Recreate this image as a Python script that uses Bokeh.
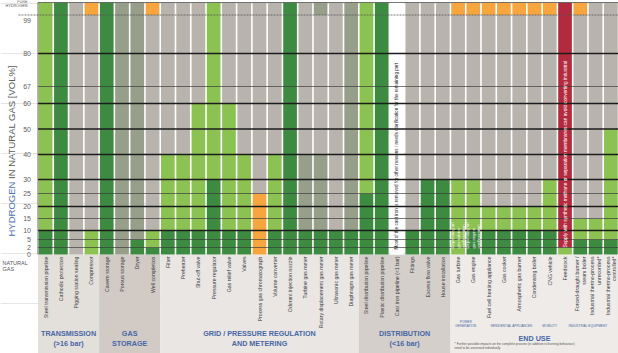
import numpy as np
from bokeh.plotting import figure
from bokeh.models import Range1d
from bokeh.core.properties import value
from bokeh.embed import file_html
from bokeh.resources import INLINE

# ---------------- data ----------------
transmission = ["Steel transmission pipeline", "Cathodic protection",
                "Pigging station sealing", "Compressor"]
storage = ["Cavern storage", "Porous storage", "Dryer", "Well completion"]
grid = ["Filter", "Preheater", "Shut-off valve", "Pressure regulator",
        "Gas relief valve", "Valves", "Process gas chromatograph",
        "Volume converter", "Odorant injection nozzle", "Turbine gas meter",
        "Rotary displacement gas meter", "Ultrasonic gas meter",
        "Diaphragm gas meter"]
distribution = ["Steel distribution pipeline", "Plastic distribution pipeline",
                "Cast iron pipeline (<1 bar)", "Fittings", "Excess flow valve",
                "House installation"]
end_use = ["Gas turbine", "Gas engine", "Fuel cell heating appliance",
           "Gas cooker", "Atmospheric gas burner", "Condensing boiler",
           "CNG vehicle", "Feedstock", "Forced-draught burner /\nsteam boiler",
           "Industrial thermo-process\nunrecorded*",
           "Industrial thermo-process\ncontrolled*"]

# status bands per component: (upper H2 vol%, status), from natural gas upwards
# D = suitable, L = suitable with adaptation, M = partly known, G = research needed,
# O = critical, R = not suitable, W = not assessed
transmission_status = [[(10, "D"), (100, "L")], [(100, "D")], [(100, "G")],
                       [(10, "L"), (99, "G"), (100, "O")]]
storage_status = [[(100, "D")], [(100, "M")], [(5, "D"), (100, "M")],
                  [(2, "D"), (10, "L"), (99, "G"), (100, "O")]]
grid_status = [[(10, "D"), (40, "L"), (100, "G")],
               [(10, "D"), (40, "L"), (100, "G")],
               [(10, "D"), (60, "L"), (100, "G")],
               [(30, "D"), (100, "L")],
               [(10, "D"), (60, "L"), (100, "G")],
               [(10, "D"), (40, "L"), (100, "G")],
               [(25, "O"), (100, "G")],
               [(10, "D"), (40, "L"), (100, "G")],
               [(100, "D")],
               [(10, "D"), (40, "M"), (100, "G")],
               [(10, "D"), (40, "M"), (99, "G"), (100, "M")],
               [(10, "D"), (100, "G")],
               [(10, "D"), (100, "M")]]
distribution_status = [[(25, "D"), (100, "L")], [(100, "D")], [(100, "W")],
                       [(10, "D"), (100, "G")], [(30, "D"), (100, "G")],
                       [(30, "D"), (100, "G")]]
end_use_status = [[(30, "L"), (99, "G"), (100, "O")],
                  [(10, "D"), (30, "L"), (99, "G"), (100, "O")],
                  [(10, "D"), (20, "L"), (99, "G"), (100, "O")],
                  [(10, "D"), (20, "L"), (99, "G"), (100, "O")],
                  [(10, "D"), (20, "L"), (99, "G"), (100, "O")],
                  [(10, "D"), (20, "L"), (99, "G"), (100, "O")],
                  [(10, "D"), (30, "L"), (99, "G"), (100, "O")],
                  [(2, "L"), (100, "R")],
                  [(5, "D"), (15, "L"), (99, "G"), (100, "O")],
                  [(5, "D"), (15, "L"), (100, "G")],
                  [(5, "D"), (50, "L"), (100, "G")]]

group_titles = ["TRANSMISSION\n(>16 bar)", "GAS\nSTORAGE",
                "GRID / PRESSURE REGULATION\nAND METERING",
                "DISTRIBUTION\n(<16 bar)", "END USE"]
end_use_subgroups = ["POWER\nGENERATION", "RESIDENTIAL APPLIANCES", "MOBILITY",
                     "INDUSTRIAL EQUIPMENT"]
footnote = ("* Further possible impacts on the complete process (in addition to burning behaviour)\n"
            "need to be assessed individually")

tick_values = [0, 2, 5, 10, 15, 20, 25, 30, 40, 50, 60, 67, 80, 99]
major_lines = [10, 20, 30, 40, 50, 60, 80]
minor_lines = [2, 5, 15, 25, 67]

cast_iron_note = ("Most of the cast iron is removed for other reasons / "
                  "needs clarification for the remaining part")
feedstock_note = ("Supply with synthetic methane or separation membranes "
                  "can avoid converting industrial")
turbine_note = "Depending on\ngas turbine\nconfiguration"
engine_note = "Depending on\ngas engine\nconfiguration"

# ---------------- styling / layout ----------------
STATUS_COLORS = {"D": "#3d8b40", "L": "#8cc252", "M": "#979f8b", "G": "#b8b3ad",
                 "O": "#f7a63f", "R": "#b22a3d", "W": "#ffffff"}
GROUP_BG = ["#e3dfdb", "#d1cac5", "#e9e6e3", "#d5cfcb", "#eeebe8"]
BLUE = "#4866a5"
FONT = value("Liberation Sans")

# non-linear vertical scale of the original chart (pixel row of each level)
SCALE_LEVELS = [0, 2, 5, 10, 15, 20, 25, 30, 40, 50, 60, 67, 80, 99, 100]
SCALE_ROWS = [254, 247, 239, 230, 218, 206, 193, 179, 154, 128.5, 103, 86, 53, 14.5, 2]

W, H = 618, 353
LEFT = 37.5
components = transmission + storage + grid + distribution + end_use
statuses = transmission_status + storage_status + grid_status + distribution_status + end_use_status
N = len(components)
COLW = (W - LEFT) / N


def ypos(v):
    return H - np.interp(v, SCALE_LEVELS, SCALE_ROWS)


def yrow(px):
    return H - px


def xcol(px):
    return (px - LEFT) / COLW - 0.5


p = figure(width=W, height=H, x_range=Range1d(xcol(0), xcol(W)), y_range=Range1d(0, H),
           min_border=0, toolbar_location=None, x_axis_location=None,
           y_axis_location=None, output_backend="svg")
p.outline_line_color = None
p.background_fill_color = "#ffffff"
p.border_fill_color = "#ffffff"

# group backgrounds under the chart
groups = [transmission, storage, grid, distribution, end_use]
starts = np.cumsum([0] + [len(g) for g in groups[:-1]])
ends = starts + np.array([len(g) for g in groups]) - 1
p.quad(left=list(starts - 0.5), right=list(ends + 0.5), bottom=[yrow(H)] * len(groups),
       top=[yrow(254)] * len(groups), fill_color=GROUP_BG, line_color=None)

# cells
half = 0.5 - 0.8 / COLW
L_, R_, B_, T_, C_ = [], [], [], [], []
for i, segs in enumerate(statuses):
    lo = 0
    for hi, s in segs:
        L_.append(i - half); R_.append(i + half)
        B_.append(ypos(lo)); T_.append(ypos(hi))
        C_.append(STATUS_COLORS[s])
        lo = hi
p.quad(left=L_, right=R_, bottom=B_, top=T_, fill_color=C_, line_color=None)

# horizontal lines
x0, x1 = -0.5, N - 0.5
p.segment(x0=[x0] * len(minor_lines), x1=[x1] * len(minor_lines),
          y0=[ypos(v) for v in minor_lines], y1=[ypos(v) for v in minor_lines],
          line_color="#3a3a3a", line_width=0.8, line_alpha=0.85)
p.segment(x0=[x0] * len(major_lines), x1=[x1] * len(major_lines),
          y0=[ypos(v) for v in major_lines], y1=[ypos(v) for v in major_lines],
          line_color="#1c1c1c", line_width=1.4)
p.segment(x0=[xcol(18)], x1=[x1], y0=[ypos(99)], y1=[ypos(99)],
          line_color="#555555", line_width=0.8, line_dash="2 1")
p.segment(x0=[x0], x1=[x1], y0=[ypos(100)], y1=[ypos(100)],
          line_color="#555555", line_width=0.8)
p.segment(x0=[x0], x1=[x0], y0=[ypos(0)], y1=[ypos(100)],
          line_color="#444444", line_width=0.8)

# y tick labels
ty = [ypos(v) if v != 99 else ypos(99) - 5 for v in tick_values]
p.text(x=[xcol(30.5)] * len(tick_values), y=ty, text=[str(v) for v in tick_values],
       text_align="right", text_baseline="middle", text_font=FONT,
       text_font_size="7px", text_color="#606060")
p.text(x=[xcol(27), xcol(27)], y=[yrow(1.2), yrow(5.8)], text=["PURE", "HYDROGEN"],
       text_align="right", text_baseline="middle", text_font=FONT,
       text_font_size="3.8px", text_color="#555555")
p.text(x=[xcol(2), xcol(2)], y=[yrow(262), yrow(268)], text=["NATURAL", "GAS"],
       text_align="left", text_baseline="middle", text_font=FONT,
       text_font_size="5.5px", text_color="#555555")

# y axis title (two colours)
p.text(x=[xcol(10.5)], y=[yrow(236)], text=["HYDROGEN"], angle=np.pi / 2,
       text_align="left", text_baseline="middle", text_font=FONT,
       text_font_size="9.5px", text_color="#4a72b8")
p.text(x=[xcol(10.5)], y=[yrow(178.5)], text=["IN NATURAL GAS [VOL%]"], angle=np.pi / 2,
       text_align="left", text_baseline="middle", text_font=FONT,
       text_font_size="9.5px", text_color="#5a5a5a")

# component labels
p.text(x=list(range(N)), y=[yrow(256)] * N, text=components, angle=np.pi / 2,
       text_align="right", text_baseline="middle", text_font=FONT,
       text_font_size="5.2px", text_color="#3c3c3c", text_line_height=1.1)

# notes inside cells
idx = components.index
p.text(x=[idx("Cast iron pipeline (<1 bar)")], y=[yrow(249)], text=[cast_iron_note],
       angle=np.pi / 2, text_align="left", text_baseline="middle", text_font=FONT,
       text_font_size="4.6px", text_color="#222222")
p.text(x=[idx("Feedstock")], y=[yrow(247)], text=[feedstock_note],
       angle=np.pi / 2, text_align="left", text_baseline="middle", text_font=FONT,
       text_font_size="4.8px", text_color="#ffffff")
p.text(x=[idx("Gas turbine"), idx("Gas engine")], y=[yrow(248), yrow(248)],
       text=[turbine_note, engine_note], angle=np.pi / 2, text_align="left",
       text_baseline="middle", text_font=FONT, text_font_size="4.2px",
       text_color="#ffffff", text_line_height=1.1)

# group titles
centers = list((starts + ends) / 2)
p.text(x=centers, y=[yrow(338)] * len(groups), text=group_titles,
       text_align="center", text_baseline="middle", text_font=FONT,
       text_font_style="bold", text_font_size="7.2px", text_color=BLUE,
       text_line_height=1.15)

# end-use subgroups
eu0 = len(components) - len(end_use)
sub_x = [eu0 + 0.5, eu0 + 3.5, eu0 + 6, eu0 + 8.5]
p.text(x=sub_x, y=[yrow(323.5), yrow(325.5), yrow(325.5), yrow(325.5)],
       text=end_use_subgroups, text_align="center", text_baseline="middle",
       text_font=FONT, text_font_size="3.2px", text_color=BLUE, text_line_height=1.1)
p.text(x=[xcol(454)], y=[yrow(345)], text=[footnote], text_align="left",
       text_baseline="middle", text_font=FONT, text_font_size="3.2px",
       text_color="#555555", text_line_height=1.2)

open("out.html", "w").write(file_html(p, INLINE))
